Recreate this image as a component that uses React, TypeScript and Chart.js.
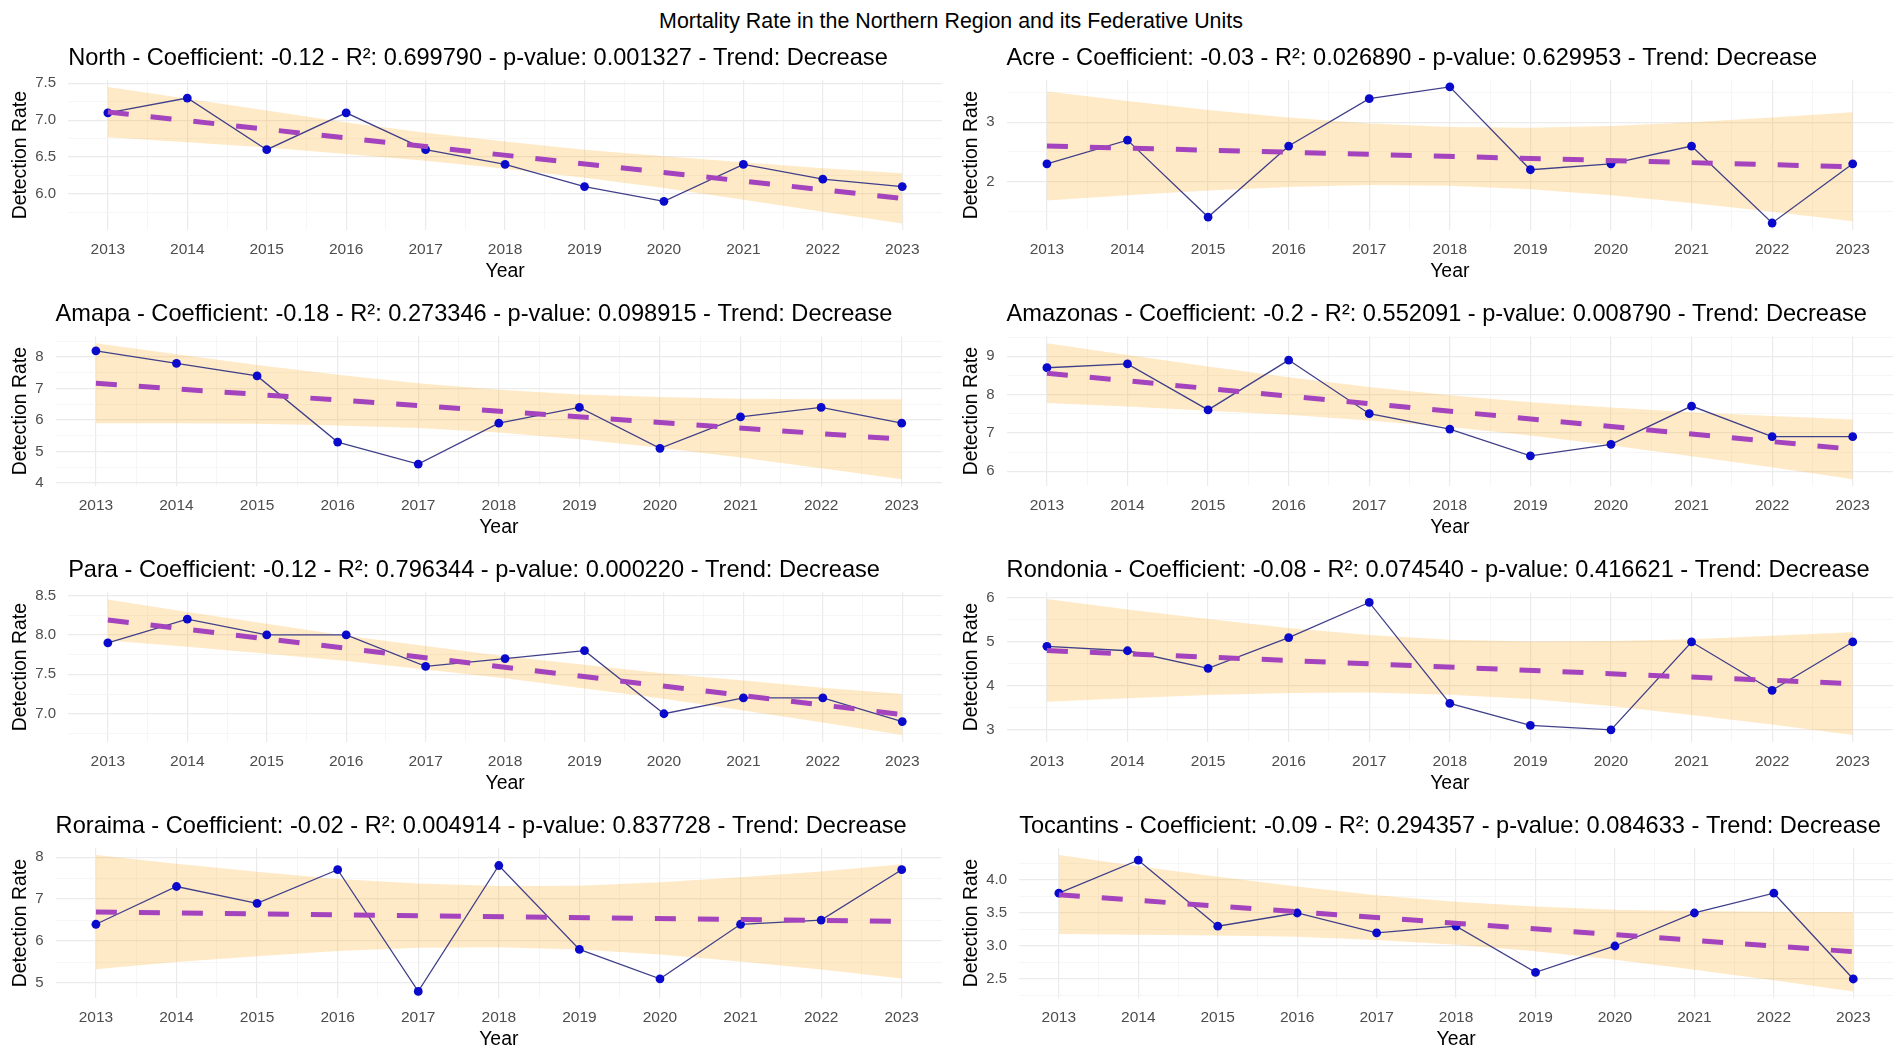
import React, { useEffect, useRef } from 'react';
import { Chart, registerables } from 'chart.js';

Chart.register(...registerables);

const FONT = '"Liberation Sans", Arial, Helvetica, sans-serif';

const mainTitle = 'Mortality Rate in the Northern Region and its Federative Units';
const years = [2013, 2014, 2015, 2016, 2017, 2018, 2019, 2020, 2021, 2022, 2023];
const xMinor = [2013.5, 2014.5, 2015.5, 2016.5, 2017.5, 2018.5, 2019.5, 2020.5, 2021.5, 2022.5];

// North
const northTitle = 'North - Coefficient: -0.12 - R²: 0.699790 - p-value: 0.001327 - Trend: Decrease';
const northValues = [7.1, 7.3, 6.6, 7.1, 6.6, 6.4, 6.1, 5.9, 6.4, 6.2, 6.1];
const northTrend = [7.11, 5.94];
const northUpper = [7.45, 7.29, 7.13, 6.97, 6.83, 6.71, 6.6, 6.51, 6.43, 6.35, 6.28];
const northLower = [6.77, 6.7, 6.63, 6.54, 6.45, 6.34, 6.22, 6.08, 5.92, 5.76, 5.6];
const northRange = [5.51, 7.54];
const northMajor = [6.0, 6.5, 7.0, 7.5];
const northLabels = ['6.0', '6.5', '7.0', '7.5'];
const northMinor = [5.75, 6.25, 6.75, 7.25];

// Acre
const acreTitle = 'Acre - Coefficient: -0.03 - R²: 0.026890 - p-value: 0.629953 - Trend: Decrease';
const acreValues = [2.3, 2.7, 1.4, 2.6, 3.4, 3.6, 2.2, 2.3, 2.6, 1.3, 2.3];
const acreTrend = [2.6, 2.25];
const acreUpper = [3.52, 3.36, 3.21, 3.08, 2.98, 2.92, 2.91, 2.94, 3.0, 3.08, 3.17];
const acreLower = [1.68, 1.77, 1.85, 1.91, 1.94, 1.93, 1.87, 1.77, 1.64, 1.49, 1.33];
const acreRange = [1.18, 3.71];
const acreMajor = [2, 3];
const acreLabels = ['2', '3'];
const acreMinor = [1.5, 2.5, 3.5];

// Amapa
const amapaTitle = 'Amapa - Coefficient: -0.18 - R²: 0.273346 - p-value: 0.098915 - Trend: Decrease';
const amapaValues = [8.2, 7.8, 7.4, 5.3, 4.6, 5.9, 6.4, 5.1, 6.1, 6.4, 5.9];
const amapaTrend = [7.17, 5.39];
const amapaUpper = [8.44, 8.09, 7.75, 7.44, 7.17, 6.96, 6.81, 6.73, 6.68, 6.66, 6.66];
const amapaLower = [5.9, 5.9, 5.88, 5.83, 5.75, 5.6, 5.39, 5.12, 4.81, 4.47, 4.12];
const amapaRange = [3.9, 8.66];
const amapaMajor = [4, 5, 6, 7, 8];
const amapaLabels = ['4', '5', '6', '7', '8'];
const amapaMinor = [4.5, 5.5, 6.5, 7.5, 8.5];

// Amazonas
const amazonasTitle = 'Amazonas - Coefficient: -0.2 - R²: 0.552091 - p-value: 0.008790 - Trend: Decrease';
const amazonasValues = [8.7, 8.8, 7.6, 8.9, 7.5, 7.1, 6.4, 6.7, 7.7, 6.9, 6.9];
const amazonasTrend = [8.555, 6.573];
const amazonasUpper = [9.34, 9.03, 8.73, 8.45, 8.2, 7.98, 7.8, 7.66, 7.54, 7.44, 7.35];
const amazonasLower = [7.78, 7.69, 7.58, 7.47, 7.32, 7.15, 6.93, 6.68, 6.39, 6.1, 5.79];
const amazonasRange = [5.61, 9.52];
const amazonasMajor = [6, 7, 8, 9];
const amazonasLabels = ['6', '7', '8', '9'];
const amazonasMinor = [6.5, 7.5, 8.5, 9.5];

// Para
const paraTitle = 'Para - Coefficient: -0.12 - R²: 0.796344 - p-value: 0.000220 - Trend: Decrease';
const paraValues = [7.9, 8.2, 8.0, 8.0, 7.6, 7.7, 7.8, 7.0, 7.2, 7.2, 6.9];
const paraTrend = [8.19, 6.99];
const paraUpper = [8.45, 8.29, 8.14, 7.99, 7.86, 7.73, 7.62, 7.51, 7.42, 7.33, 7.25];
const paraLower = [7.93, 7.85, 7.76, 7.67, 7.56, 7.45, 7.32, 7.19, 7.04, 6.89, 6.73];
const paraRange = [6.64, 8.54];
const paraMajor = [7.0, 7.5, 8.0, 8.5];
const paraLabels = ['7.0', '7.5', '8.0', '8.5'];
const paraMinor = [6.75, 7.25, 7.75, 8.25];

// Rondonia
const rondoniaTitle = 'Rondonia - Coefficient: -0.08 - R²: 0.074540 - p-value: 0.416621 - Trend: Decrease';
const rondoniaValues = [4.9, 4.8, 4.4, 5.1, 5.9, 3.6, 3.1, 3.0, 5.0, 3.9, 5.0];
const rondoniaTrend = [4.805, 4.05];
const rondoniaUpper = [5.98, 5.74, 5.52, 5.32, 5.16, 5.05, 5.01, 5.02, 5.06, 5.14, 5.22];
const rondoniaLower = [3.64, 3.72, 3.79, 3.84, 3.85, 3.8, 3.7, 3.54, 3.34, 3.12, 2.88];
const rondoniaRange = [2.72, 6.13];
const rondoniaMajor = [3, 4, 5, 6];
const rondoniaLabels = ['3', '4', '5', '6'];
const rondoniaMinor = [3.5, 4.5, 5.5];

// Roraima
const roraimaTitle = 'Roraima - Coefficient: -0.02 - R²: 0.004914 - p-value: 0.837728 - Trend: Decrease';
const roraimaValues = [6.4, 7.3, 6.9, 7.7, 4.8, 7.8, 5.8, 5.1, 6.4, 6.5, 7.7];
const roraimaTrend = [6.69, 6.47];
const roraimaUpper = [8.05, 7.84, 7.65, 7.48, 7.37, 7.31, 7.32, 7.4, 7.52, 7.66, 7.83];
const roraimaLower = [5.33, 5.5, 5.64, 5.76, 5.84, 5.85, 5.8, 5.68, 5.51, 5.32, 5.11];
const roraimaRange = [4.64, 8.21];
const roraimaMajor = [5, 6, 7, 8];
const roraimaLabels = ['5', '6', '7', '8'];
const roraimaMinor = [5.5, 6.5, 7.5];

// Tocantins
const tocantinsTitle = 'Tocantins - Coefficient: -0.09 - R²: 0.294357 - p-value: 0.084633 - Trend: Decrease';
const tocantinsValues = [3.8, 4.3, 3.3, 3.5, 3.2, 3.3, 2.6, 3.0, 3.5, 3.8, 2.5];
const tocantinsTrend = [3.777, 2.913];
const tocantinsUpper = [4.38, 4.21, 4.05, 3.9, 3.77, 3.67, 3.6, 3.55, 3.53, 3.52, 3.51];
const tocantinsLower = [3.18, 3.17, 3.16, 3.14, 3.09, 3.02, 2.92, 2.79, 2.64, 2.48, 2.31];
const tocantinsRange = [2.21, 4.48];
const tocantinsMajor = [2.5, 3.0, 3.5, 4.0];
const tocantinsLabels = ['2.5', '3.0', '3.5', '4.0'];
const tocantinsMinor = [2.25, 2.75, 3.25, 3.75, 4.25];

type PanelCfg = {
  title: string;
  values: number[];
  trend: number[];
  upper: number[];
  lower: number[];
  range: number[];
  major: number[];
  labels: string[];
  minor: number[];
};

const panels: PanelCfg[] = [
  { title: northTitle, values: northValues, trend: northTrend, upper: northUpper, lower: northLower, range: northRange, major: northMajor, labels: northLabels, minor: northMinor },
  { title: acreTitle, values: acreValues, trend: acreTrend, upper: acreUpper, lower: acreLower, range: acreRange, major: acreMajor, labels: acreLabels, minor: acreMinor },
  { title: amapaTitle, values: amapaValues, trend: amapaTrend, upper: amapaUpper, lower: amapaLower, range: amapaRange, major: amapaMajor, labels: amapaLabels, minor: amapaMinor },
  { title: amazonasTitle, values: amazonasValues, trend: amazonasTrend, upper: amazonasUpper, lower: amazonasLower, range: amazonasRange, major: amazonasMajor, labels: amazonasLabels, minor: amazonasMinor },
  { title: paraTitle, values: paraValues, trend: paraTrend, upper: paraUpper, lower: paraLower, range: paraRange, major: paraMajor, labels: paraLabels, minor: paraMinor },
  { title: rondoniaTitle, values: rondoniaValues, trend: rondoniaTrend, upper: rondoniaUpper, lower: rondoniaLower, range: rondoniaRange, major: rondoniaMajor, labels: rondoniaLabels, minor: rondoniaMinor },
  { title: roraimaTitle, values: roraimaValues, trend: roraimaTrend, upper: roraimaUpper, lower: roraimaLower, range: roraimaRange, major: roraimaMajor, labels: roraimaLabels, minor: roraimaMinor },
  { title: tocantinsTitle, values: tocantinsValues, trend: tocantinsTrend, upper: tocantinsUpper, lower: tocantinsLower, range: tocantinsRange, major: tocantinsMajor, labels: tocantinsLabels, minor: tocantinsMinor },
];

const BAND = 'rgba(255, 170, 30, 0.25)';
const LINE = '#40408A';
const POINT = '#0A0ACD';
const TREND = '#A443BE';
const TICK = '#4D4D4D';
const GRID_MAJOR = '#EBEBEB';
const GRID_MINOR = '#F4F4F4';

const CELL_W = 951;
const CELL_H = 256;
const Y_TICK_PAD = 12;
const X_TICK_PAD = 10;

function Panel({ p }: { p: PanelCfg }) {
  const ref = useRef<HTMLCanvasElement>(null);
  useEffect(() => {
    const canvas = ref.current;
    if (!canvas) return;
    const yTicks = [...p.major, ...p.minor].sort((a, b) => a - b);
    const xTicks = [...years, ...xMinor].sort((a, b) => a - b);
    const labelFor = (v: number) => {
      const i = p.major.indexOf(v);
      return i >= 0 ? p.labels[i] : '';
    };
    const chart = new Chart(canvas, {
      type: 'line',
      data: {
        datasets: [
          {
            data: years.map((x, i) => ({ x, y: p.lower[i] })),
            borderColor: 'transparent',
            borderWidth: 0,
            pointRadius: 0,
            fill: false,
            order: 3,
          },
          {
            data: years.map((x, i) => ({ x, y: p.upper[i] })),
            borderColor: 'transparent',
            borderWidth: 0,
            pointRadius: 0,
            fill: '-1',
            backgroundColor: BAND,
            order: 3,
          },
          {
            data: years.map((x, i) => ({ x, y: p.values[i] })),
            borderColor: LINE,
            borderWidth: 1.3,
            pointRadius: 4.4,
            pointBackgroundColor: POINT,
            pointBorderWidth: 0,
            fill: false,
            tension: 0,
            order: 1,
          },
          {
            data: [
              { x: years[0], y: p.trend[0] },
              { x: years[years.length - 1], y: p.trend[1] },
            ],
            borderColor: TREND,
            borderWidth: 5,
            borderDash: [21, 22],
            borderCapStyle: 'butt',
            pointRadius: 0,
            fill: false,
            order: 0,
          },
        ],
      },
      options: {
        animation: false,
        responsive: false,
        events: [],
        layout: { padding: { left: 9, right: 9, top: 0, bottom: 8 } },
        plugins: {
          legend: { display: false },
          tooltip: { enabled: false },
          title: {
            display: true,
            text: p.title,
            align: 'start',
            fullSize: false,
            color: '#000000',
            font: { family: FONT, size: 23.6, weight: 'normal' },
            padding: { top: 9, bottom: 8 },
          },
        },
        scales: {
          x: {
            type: 'linear',
            min: 2012.5,
            max: 2023.5,
            afterBuildTicks: (s: any) => {
              s.ticks = xTicks.map((v) => ({ value: v }));
            },
            afterFit: (s: any) => {
              s.height -= X_TICK_PAD;
            },
            ticks: {
              autoSkip: false,
              maxRotation: 0,
              minRotation: 0,
              padding: X_TICK_PAD,
              color: TICK,
              font: { family: FONT, size: 15.5 },
              callback: (v: any) => (Number.isInteger(v) ? String(v) : ''),
            },
            grid: {
              drawTicks: false,
              color: (c: any) => (Number.isInteger(c.tick?.value) ? GRID_MAJOR : GRID_MINOR),
              lineWidth: (c: any) => (Number.isInteger(c.tick?.value) ? 1.2 : 0.8),
            },
            border: { display: false },
            title: {
              display: true,
              text: 'Year',
              color: '#000000',
              font: { family: FONT, size: 19.4 },
              padding: { top: 1, bottom: 0 },
            },
          },
          y: {
            type: 'linear',
            min: p.range[0],
            max: p.range[1],
            afterBuildTicks: (s: any) => {
              s.ticks = yTicks.map((v) => ({ value: v }));
            },
            afterFit: (s: any) => {
              s.width -= Y_TICK_PAD;
            },
            ticks: {
              autoSkip: false,
              padding: Y_TICK_PAD,
              color: TICK,
              font: { family: FONT, size: 15 },
              callback: (v: any) => labelFor(v),
            },
            grid: {
              drawTicks: false,
              color: (c: any) => (p.major.includes(c.tick?.value) ? GRID_MAJOR : GRID_MINOR),
              lineWidth: (c: any) => (p.major.includes(c.tick?.value) ? 1.2 : 0.8),
            },
            border: { display: false },
            title: {
              display: true,
              text: 'Detection Rate',
              color: '#000000',
              font: { family: FONT, size: 19.4 },
              padding: { top: 0, bottom: 3 },
            },
          },
        },
      } as any,
    });
    return () => chart.destroy();
  }, [p]);
  return (
    <div style={{ width: CELL_W, height: CELL_H, position: 'relative' }}>
      <canvas ref={ref} width={CELL_W} height={CELL_H} style={{ display: 'block' }} />
    </div>
  );
}

export default function App() {
  useEffect(() => {
    document.body.style.margin = '0';
    document.body.style.background = '#ffffff';
  }, []);
  return (
    <div
      style={{
        width: 1902,
        height: 1055,
        overflow: 'hidden',
        background: '#ffffff',
        fontFamily: FONT,
      }}
    >
      <div
        style={{
          height: 35,
          boxSizing: 'border-box',
          paddingTop: 8,
          fontSize: 21.4,
          lineHeight: '26px',
          textAlign: 'center',
          color: '#000000',
        }}
      >
        {mainTitle}
      </div>
      <div style={{ display: 'grid', gridTemplateColumns: `${CELL_W}px ${CELL_W}px`, gridAutoRows: `${CELL_H}px` }}>
        {panels.map((p, i) => (
          <Panel key={i} p={p} />
        ))}
      </div>
    </div>
  );
}
